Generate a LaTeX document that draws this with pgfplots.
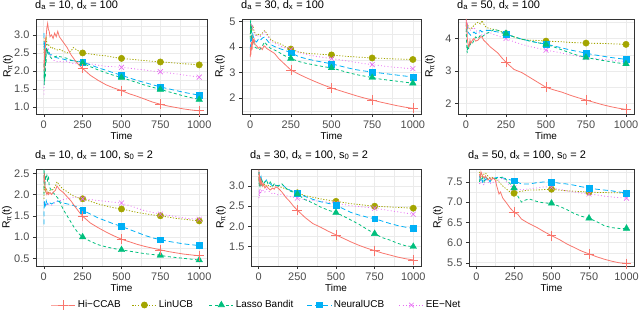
\documentclass[border=0pt]{standalone}
\usepackage{fontspec}
\setmainfont{Liberation Sans}
\usepackage{pgfplots}
\pgfplotsset{compat=1.18}
\definecolor{cH}{HTML}{F8766D}
\definecolor{cL}{HTML}{A3A500}
\definecolor{cS}{HTML}{00BF7D}
\definecolor{cN}{HTML}{00B0F6}
\definecolor{cE}{HTML}{E76BF3}
\definecolor{gridc}{HTML}{EBEBEB}
\definecolor{frame}{HTML}{333333}
\definecolor{tickc}{HTML}{4D4D4D}
\pgfplotsset{
  hic/.style={color=cH, solid, line width=0.8pt},
  lin/.style={color=cL, line width=0.8pt, dash pattern=on 1.2pt off 1.6pt},
  las/.style={color=cS, line width=0.8pt, dash pattern=on 3pt off 2.5pt},
  neu/.style={color=cN, line width=0.8pt, dash pattern=on 5pt off 3pt},
  een/.style={color=cE, line width=0.8pt, dash pattern=on 0.9pt off 2.4pt},
  hicm/.style={color=cH, only marks, mark=+, mark size=5pt, mark options={solid, line width=0.6pt}},
  linm/.style={color=cL, only marks, mark=*, mark size=3.2pt, mark options={solid, fill=cL}},
  lasm/.style={color=cS, only marks, mark=triangle*, mark size=3.8pt, mark options={solid, fill=cS}},
  neum/.style={color=cN, only marks, mark=square*, mark size=2.9pt, mark options={solid, fill=cN}},
  eenm/.style={color=cE, only marks, mark=x, mark size=3.5pt, mark options={solid, line width=0.6pt}},
  ylab/.style={ylabel style={at={(axis description cs:0,0.5)}, anchor=center, yshift=#1}},
  onekey/.style={legend style={at={#1}, anchor=west, draw=none, fill=none, inner sep=0pt, outer sep=0pt,
      font=\fontsize{10}{12}\selectfont, nodes={inner xsep=2bp}},
    legend image code/.code={\draw[mark repeat=2,mark phase=2,##1] plot coordinates {(0bp,0bp)(12bp,0bp)(24bp,0bp)};}},
  panel/.style={
    scale only axis, anchor=south west,
    xmin=-50, xmax=1050,
    xtick={0,250,500,750,1000},
    minor xtick={125,375,625,875},
    axis line style={color=frame, line width=0.6pt},
    tick align=outside, tick pos=left,
    major tick length=3bp, minor tick length=0pt,
    tick style={color=frame, line width=0.5pt},
    grid=both,
    major grid style={color=gridc, line width=0.6pt},
    minor grid style={color=gridc, line width=0.3pt},
    ticklabel style={font=\fontsize{11}{12}\selectfont, color=tickc},
    /pgf/number format/assume math mode=true,
    xticklabel style={/pgf/number format/.cd, fixed, 1000 sep={}},
    xlabel={Time},
    xlabel style={font=\fontsize{10}{12}\selectfont, at={(axis description cs:0.5,0)}, anchor=center, yshift=-21.5bp},
    ylabel={R\textsubscript{π}(t)},
    ylabel style={font=\fontsize{10.5}{12}\selectfont},
    title style={font=\fontsize{11}{13}\selectfont, at={(axis description cs:0,1)}, anchor=base west, inner sep=0pt, yshift=5bp, xshift=-1bp},
    clip=true,
  },
  onedec/.style={yticklabel style={/pgf/number format/.cd, fixed, fixed zerofill, precision=1}},
  nodec/.style={yticklabel style={/pgf/number format/.cd, fixed, precision=0}},
}
\begin{document}
\begin{tikzpicture}
\useasboundingbox (0,0) rectangle (640bp,311bp);
% ---------------- Panel 1 ----------------
\begin{axis}[panel, onedec, ylab=28bp, at={(36bp,197bp)}, width=171bp, height=95bp,
  ymin=0.81, ymax=3.44, ytick={1.0,1.5,2.0,2.5,3.0}, minor ytick={1.25,1.75,2.25,2.75,3.25},
  title={d\textsubscript{a} = 10, d\textsubscript{x} = 100},
  onekey={(axis description cs:1.585,-2.011)}]
\addlegendimage{neu, mark=square*, mark size=2.7pt, mark options={solid, fill=cN}}
\addlegendentry{NeuralUCB}
\addplot[lin, forget plot] coordinates {(1,2.5)(3,2.9)(5,2.6)(8,2.75)(12,2.8)(16,2.9)(20,2.75)(25,2.7)(30,2.72)(40,2.68)(50,2.62)(60,2.65)(75,2.6)(90,2.58)(100,2.6)(125,2.55)(150,2.5)(175,2.55)(190,2.65)(200,2.62)(225,2.55)(250,2.5)(300,2.47)(350,2.44)(400,2.42)(450,2.38)(500,2.35)(550,2.33)(600,2.31)(650,2.29)(700,2.27)(750,2.25)(800,2.24)(850,2.22)(900,2.2)(950,2.19)(1000,2.17)};
\addplot[een, forget plot] coordinates {(1,1.35)(3,1.8)(5,2.3)(8,2.4)(10,2.6)(15,2.5)(20,2.6)(25,2.55)(30,2.6)(40,2.45)(50,2.35)(60,2.3)(75,2.28)(90,2.25)(100,2.27)(125,2.25)(150,2.27)(175,2.22)(200,2.2)(225,2.22)(250,2.24)(300,2.2)(350,2.16)(400,2.13)(450,2.12)(500,2.1)(550,2.08)(600,2.05)(650,2.03)(700,2.0)(750,1.98)(800,1.95)(850,1.92)(900,1.89)(950,1.86)(1000,1.83)};
\addplot[neu, forget plot] coordinates {(1,3.05)(3,2.6)(5,2.8)(8,2.5)(10,2.75)(15,2.6)(20,2.55)(25,2.5)(30,2.55)(40,2.45)(50,2.45)(60,2.42)(75,2.38)(90,2.36)(100,2.35)(125,2.33)(150,2.3)(175,2.29)(200,2.28)(225,2.27)(250,2.25)(300,2.17)(350,2.09)(400,2.02)(450,1.95)(500,1.88)(550,1.81)(600,1.74)(650,1.68)(700,1.62)(750,1.56)(800,1.51)(850,1.46)(900,1.41)(950,1.37)(1000,1.33)};
\addplot[las, forget plot] coordinates {(1,2.2)(3,1.6)(5,2.4)(6,1.7)(8,2.5)(10,1.8)(12,2.6)(15,2.2)(18,2.75)(20,2.5)(25,2.6)(30,2.45)(40,2.4)(50,2.35)(60,2.38)(75,2.4)(90,2.42)(100,2.4)(125,2.38)(150,2.35)(175,2.3)(200,2.28)(225,2.25)(250,2.22)(300,2.12)(350,2.03)(400,1.95)(450,1.88)(500,1.82)(550,1.75)(600,1.68)(650,1.61)(700,1.55)(750,1.49)(800,1.43)(850,1.37)(900,1.31)(950,1.26)(1000,1.21)};
\addplot[hic, forget plot] coordinates {(1,2.3)(3,2.0)(5,2.6)(8,2.4)(12,2.9)(16,3.0)(20,3.2)(25,3.32)(30,3.15)(35,3.1)(40,2.95)(50,3.0)(60,2.9)(70,3.05)(80,2.95)(90,3.1)(100,2.95)(125,2.8)(150,2.65)(175,2.45)(200,2.3)(225,2.17)(250,2.07)(300,1.88)(350,1.74)(400,1.62)(450,1.53)(500,1.46)(550,1.37)(600,1.3)(650,1.22)(700,1.14)(750,1.08)(800,1.03)(850,0.99)(900,0.95)(950,0.92)(1000,0.9)};
\addplot[linm, forget plot] coordinates {(250,2.5)(500,2.35)(750,2.25)(1000,2.17)};
\addplot[eenm, forget plot] coordinates {(250,2.24)(500,2.1)(750,1.98)(1000,1.83)};
\addplot[neum, forget plot] coordinates {(250,2.25)(500,1.88)(750,1.56)(1000,1.33)};
\addplot[lasm, forget plot] coordinates {(250,2.22)(500,1.82)(750,1.49)(1000,1.21)};
\addplot[hicm, forget plot] coordinates {(250,2.07)(500,1.46)(750,1.08)(1000,0.9)};
\end{axis}
% ---------------- Panel 2 ----------------
\begin{axis}[panel, nodec, ylab=22bp, at={(242bp,197bp)}, width=179bp, height=95bp,
  ymin=1.37, ymax=5.1, ytick={2,3,4,5}, minor ytick={1.5,2.5,3.5,4.5},
  title={d\textsubscript{a} = 30, d\textsubscript{x} = 100},
  onekey={(axis description cs:0.877,-2.011)}]
\addlegendimage{een, mark=x, mark size=3.3pt, mark options={solid, line width=0.6pt}}
\addlegendentry{EE−Net}
\addplot[lin, forget plot] coordinates {(1,4.4)(3,4.9)(5,4.6)(8,4.8)(12,4.7)(16,4.85)(20,4.75)(25,4.6)(30,4.55)(40,4.45)(50,4.5)(60,4.45)(75,4.55)(90,4.65)(100,4.55)(125,4.3)(150,4.2)(175,4.15)(200,4.08)(225,3.98)(250,3.92)(300,3.8)(350,3.75)(400,3.73)(450,3.71)(500,3.69)(550,3.66)(600,3.63)(650,3.61)(700,3.59)(750,3.57)(800,3.56)(850,3.54)(900,3.53)(950,3.52)(1000,3.51)};
\addplot[een, forget plot] coordinates {(1,4.7)(3,4.95)(5,4.8)(8,4.9)(12,4.7)(16,4.8)(20,4.6)(25,4.55)(30,4.5)(40,4.4)(50,4.45)(60,4.4)(75,4.5)(90,4.6)(100,4.5)(125,4.25)(150,4.15)(175,4.08)(200,4.0)(225,3.95)(250,3.9)(300,3.78)(350,3.7)(400,3.64)(450,3.59)(500,3.55)(550,3.5)(600,3.45)(650,3.4)(700,3.35)(750,3.31)(800,3.27)(850,3.23)(900,3.2)(950,3.17)(1000,3.15)};
\addplot[neu, forget plot] coordinates {(1,3.9)(3,4.3)(5,4.0)(8,4.5)(12,4.3)(16,4.5)(20,4.4)(25,4.3)(30,4.25)(40,4.2)(50,4.3)(60,4.25)(75,4.35)(90,4.4)(100,4.3)(125,4.1)(150,4.02)(175,3.95)(200,3.9)(225,3.84)(250,3.78)(300,3.62)(350,3.53)(400,3.46)(450,3.4)(500,3.34)(550,3.26)(600,3.18)(650,3.11)(700,3.06)(750,3.02)(800,2.98)(850,2.94)(900,2.9)(950,2.86)(1000,2.83)};
\addplot[las, forget plot] coordinates {(1,4.3)(3,5.05)(5,4.5)(8,4.8)(10,4.3)(12,4.5)(16,4.2)(20,4.3)(25,4.1)(30,4.0)(40,3.95)(50,3.97)(60,3.9)(75,4.05)(90,4.2)(100,4.1)(125,3.95)(150,3.88)(175,3.8)(200,3.7)(225,3.62)(250,3.55)(300,3.43)(350,3.35)(400,3.29)(450,3.23)(500,3.18)(550,3.09)(600,3.0)(650,2.92)(700,2.86)(750,2.8)(800,2.74)(850,2.7)(900,2.66)(950,2.62)(1000,2.58)};
\addplot[hic, forget plot] coordinates {(1,3.6)(3,4.0)(5,3.7)(8,4.2)(12,3.9)(16,4.35)(20,4.2)(25,4.3)(30,4.1)(40,4.05)(50,3.95)(60,4.0)(75,3.9)(85,4.05)(95,4.0)(100,3.95)(125,3.85)(150,3.75)(175,3.55)(200,3.4)(225,3.25)(250,3.1)(300,2.93)(350,2.78)(400,2.64)(450,2.51)(500,2.39)(550,2.29)(600,2.19)(650,2.09)(700,2.0)(750,1.92)(800,1.84)(850,1.77)(900,1.7)(950,1.64)(1000,1.59)};
\addplot[linm, forget plot] coordinates {(250,3.92)(500,3.69)(750,3.57)(1000,3.51)};
\addplot[eenm, forget plot] coordinates {(250,3.9)(500,3.55)(750,3.31)(1000,3.15)};
\addplot[neum, forget plot] coordinates {(250,3.78)(500,3.34)(750,3.02)(1000,2.83)};
\addplot[lasm, forget plot] coordinates {(250,3.55)(500,3.18)(750,2.8)(1000,2.58)};
\addplot[hicm, forget plot] coordinates {(250,3.1)(500,2.39)(750,1.92)(1000,1.59)};
\end{axis}
% ---------------- Panel 3 ----------------
\begin{axis}[panel, nodec, ylab=28bp, at={(458bp,197bp)}, width=176bp, height=95bp,
  ymin=1.68, ymax=4.6, ytick={2,3,4}, minor ytick={2.5,3.5,4.5},
  title={d\textsubscript{a} = 50, d\textsubscript{x} = 100}]
\addplot[lin, forget plot] coordinates {(1,4.2)(3,4.5)(5,4.35)(8,4.45)(12,4.4)(16,4.35)(20,4.3)(30,4.3)(40,4.35)(50,4.4)(60,4.45)(75,4.5)(90,4.45)(100,4.55)(110,4.45)(125,4.35)(150,4.3)(175,4.28)(200,4.25)(225,4.2)(250,4.15)(300,4.05)(350,3.97)(400,3.95)(450,3.94)(500,3.92)(550,3.91)(600,3.9)(650,3.88)(700,3.87)(750,3.86)(800,3.85)(850,3.85)(900,3.84)(950,3.83)(1000,3.82)};
\addplot[een, forget plot] coordinates {(1,4.55)(3,4.6)(5,4.4)(8,4.5)(12,4.35)(20,4.3)(30,4.25)(40,4.3)(50,4.35)(60,4.25)(75,4.2)(90,4.15)(100,4.1)(125,4.15)(150,4.18)(175,4.12)(200,4.08)(225,4.03)(250,4.0)(300,3.9)(350,3.82)(400,3.75)(450,3.7)(500,3.64)(550,3.6)(600,3.55)(650,3.5)(700,3.46)(750,3.42)(800,3.39)(850,3.36)(900,3.34)(950,3.31)(1000,3.29)};
\addplot[neu, forget plot] coordinates {(1,4.5)(3,4.3)(5,4.25)(8,4.35)(12,4.2)(20,4.15)(30,4.1)(40,4.15)(50,4.2)(60,4.15)(75,4.2)(90,4.25)(100,4.2)(125,4.25)(150,4.25)(175,4.22)(200,4.2)(225,4.17)(250,4.14)(300,4.05)(350,3.98)(400,3.92)(450,3.87)(500,3.83)(550,3.77)(600,3.71)(650,3.65)(700,3.6)(750,3.55)(800,3.5)(850,3.46)(900,3.42)(950,3.39)(1000,3.36)};
\addplot[las, forget plot] coordinates {(1,4.3)(3,4.0)(5,3.7)(8,3.55)(12,3.8)(16,3.65)(20,3.85)(25,3.75)(30,3.9)(40,3.85)(50,3.95)(60,4.05)(75,4.0)(90,4.1)(100,4.05)(125,4.15)(150,4.2)(175,4.28)(200,4.25)(225,4.2)(250,4.15)(300,4.05)(350,3.98)(400,3.92)(450,3.87)(500,3.82)(550,3.74)(600,3.65)(650,3.56)(700,3.48)(750,3.42)(800,3.37)(850,3.33)(900,3.29)(950,3.25)(1000,3.22)};
\addplot[hic, forget plot] coordinates {(1,4.6)(3,4.3)(5,4.5)(8,4.0)(12,3.85)(16,3.75)(20,3.8)(25,3.95)(30,3.85)(40,3.95)(50,4.0)(60,3.92)(75,3.95)(90,4.05)(100,4.05)(110,3.95)(125,3.88)(150,3.75)(175,3.65)(200,3.55)(225,3.4)(250,3.27)(300,3.05)(350,2.95)(400,2.8)(450,2.65)(500,2.5)(550,2.42)(600,2.35)(650,2.26)(700,2.18)(750,2.11)(800,2.04)(850,1.97)(900,1.91)(950,1.86)(1000,1.82)};
\addplot[linm, forget plot] coordinates {(250,4.15)(500,3.92)(750,3.86)(1000,3.82)};
\addplot[eenm, forget plot] coordinates {(250,4.0)(500,3.64)(750,3.42)(1000,3.29)};
\addplot[neum, forget plot] coordinates {(250,4.14)(500,3.83)(750,3.55)(1000,3.36)};
\addplot[lasm, forget plot] coordinates {(250,4.15)(500,3.82)(750,3.42)(1000,3.22)};
\addplot[hicm, forget plot] coordinates {(250,3.27)(500,2.5)(750,2.11)(1000,1.82)};
\end{axis}
% ---------------- Panel 4 ----------------
\begin{axis}[panel, onedec, ylab=29bp, at={(36bp,45bp)}, width=171bp, height=97bp,
  ymin=0.32, ymax=2.6, ytick={0.5,1.0,1.5,2.0,2.5}, minor ytick={0.75,1.25,1.75,2.25},
  title={d\textsubscript{a} = 10, d\textsubscript{x} = 100, s\textsubscript{0} = 2},
  onekey={(axis description cs:0.088,-0.402)}]
\addlegendimage{hic, mark=+, mark size=5pt, mark options={solid, line width=0.6pt}}
\addlegendentry{Hi−CCAB}
\addplot[lin, forget plot] coordinates {(1,1.9)(3,2.3)(5,2.1)(8,2.2)(12,2.05)(16,2.15)(20,2.1)(30,2.05)(40,2.1)(50,2.1)(60,2.12)(75,2.2)(85,2.3)(95,2.25)(100,2.22)(125,2.12)(150,2.07)(175,2.0)(200,1.95)(225,1.92)(250,1.9)(300,1.84)(350,1.78)(400,1.73)(450,1.69)(500,1.66)(550,1.62)(600,1.58)(650,1.55)(700,1.52)(750,1.5)(800,1.47)(850,1.44)(900,1.42)(950,1.4)(1000,1.38)};
\addplot[een, forget plot] coordinates {(1,1.8)(3,1.85)(5,1.75)(8,1.8)(12,1.72)(16,1.8)(20,1.75)(30,1.78)(40,1.76)(50,1.75)(60,1.78)(75,1.82)(90,1.85)(100,1.85)(125,1.88)(150,1.9)(175,1.92)(200,1.95)(225,1.92)(250,1.9)(300,1.88)(350,1.86)(400,1.84)(450,1.82)(500,1.8)(550,1.74)(600,1.68)(650,1.62)(700,1.58)(750,1.54)(800,1.51)(850,1.48)(900,1.45)(950,1.43)(1000,1.42)};
\addplot[neu, forget plot] coordinates {(1,1.3)(3,1.85)(5,1.7)(8,1.8)(12,1.75)(16,1.85)(20,1.8)(30,1.75)(40,1.8)(50,1.78)(60,1.8)(75,1.82)(90,1.85)(100,1.83)(125,1.8)(150,1.78)(175,1.76)(200,1.73)(225,1.68)(250,1.63)(300,1.54)(350,1.45)(400,1.38)(450,1.31)(500,1.25)(550,1.18)(600,1.11)(650,1.04)(700,0.98)(750,0.94)(800,0.9)(850,0.87)(900,0.84)(950,0.82)(1000,0.8)};
\addplot[las, forget plot] coordinates {(1,2.0)(2,2.6)(3,2.3)(5,2.5)(8,2.2)(10,2.45)(12,2.35)(16,2.4)(20,2.45)(25,2.3)(30,2.45)(35,2.2)(40,2.15)(50,2.1)(60,2.05)(75,1.98)(90,1.92)(100,1.85)(125,1.65)(150,1.5)(175,1.35)(200,1.2)(225,1.08)(250,1.0)(300,0.9)(350,0.82)(400,0.77)(450,0.73)(500,0.7)(550,0.67)(600,0.64)(650,0.61)(700,0.59)(750,0.57)(800,0.54)(850,0.52)(900,0.5)(950,0.48)(1000,0.46)};
\addplot[hic, forget plot] coordinates {(1,2.3)(3,2.5)(5,2.35)(8,2.2)(12,2.1)(16,2.05)(20,2.0)(25,2.05)(30,2.0)(40,2.05)(50,2.0)(60,2.05)(75,2.1)(85,2.2)(95,2.15)(100,2.12)(125,2.05)(150,1.95)(175,1.85)(200,1.72)(225,1.6)(250,1.49)(300,1.33)(350,1.22)(400,1.12)(450,1.03)(500,0.95)(550,0.89)(600,0.83)(650,0.78)(700,0.74)(750,0.7)(800,0.66)(850,0.63)(900,0.6)(950,0.58)(1000,0.56)};
\addplot[linm, forget plot] coordinates {(250,1.9)(500,1.66)(750,1.5)(1000,1.38)};
\addplot[eenm, forget plot] coordinates {(250,1.9)(500,1.8)(750,1.54)(1000,1.42)};
\addplot[neum, forget plot] coordinates {(250,1.63)(500,1.25)(750,0.94)(1000,0.8)};
\addplot[lasm, forget plot] coordinates {(250,1.0)(500,0.7)(750,0.57)(1000,0.46)};
\addplot[hicm, forget plot] coordinates {(250,1.49)(500,0.95)(750,0.7)(1000,0.56)};
\end{axis}
% ---------------- Panel 5 ----------------
\begin{axis}[panel, onedec, ylab=30bp, at={(251bp,45bp)}, width=170bp, height=97bp,
  ymin=1.02, ymax=3.42, ytick={1.0,1.5,2.0,2.5,3.0}, minor ytick={1.25,1.75,2.25,2.75,3.25},
  title={d\textsubscript{a} = 30, d\textsubscript{x} = 100, s\textsubscript{0} = 2},
  onekey={(axis description cs:-0.700,-0.402)}]
\addlegendimage{lin, mark=*, mark size=3pt, mark options={solid, fill=cL}}
\addlegendentry{LinUCB}
\addplot[lin, forget plot] coordinates {(1,3.3)(3,3.1)(5,3.25)(8,3.0)(12,3.15)(16,3.05)(20,3.1)(30,3.0)(40,3.05)(50,3.0)(60,3.02)(75,2.98)(90,3.0)(100,3.02)(125,3.0)(150,2.96)(175,2.93)(200,2.9)(225,2.86)(250,2.83)(300,2.76)(350,2.72)(400,2.68)(450,2.65)(500,2.62)(550,2.59)(600,2.56)(650,2.54)(700,2.52)(750,2.5)(800,2.49)(850,2.48)(900,2.47)(950,2.46)(1000,2.45)};
\addplot[een, forget plot] coordinates {(1,2.7)(3,2.9)(5,2.75)(8,2.95)(12,2.8)(16,2.9)(20,2.85)(30,2.9)(40,2.85)(50,2.92)(60,2.88)(75,2.85)(90,2.8)(100,2.82)(125,2.78)(150,2.8)(175,2.76)(200,2.74)(225,2.72)(250,2.7)(300,2.66)(350,2.64)(400,2.62)(450,2.6)(500,2.57)(550,2.54)(600,2.51)(650,2.49)(700,2.47)(750,2.45)(800,2.42)(850,2.39)(900,2.36)(950,2.33)(1000,2.3)};
\addplot[neu, forget plot] coordinates {(1,3.3)(3,3.35)(5,3.1)(8,3.25)(12,3.05)(16,3.2)(20,3.1)(30,3.05)(40,3.1)(50,3.15)(60,3.1)(75,3.05)(90,3.0)(100,3.03)(125,3.0)(150,3.05)(175,2.95)(200,2.9)(225,2.86)(250,2.83)(300,2.74)(350,2.67)(400,2.61)(450,2.57)(500,2.53)(550,2.43)(600,2.34)(650,2.28)(700,2.23)(750,2.19)(800,2.13)(850,2.07)(900,2.02)(950,1.98)(1000,1.95)};
\addplot[las, forget plot] coordinates {(1,3.35)(3,3.0)(5,3.25)(8,2.95)(12,3.2)(16,3.0)(20,3.15)(30,3.05)(40,3.1)(50,3.15)(60,3.05)(75,3.1)(90,3.0)(100,3.05)(125,3.0)(150,3.05)(175,2.95)(200,2.88)(225,2.84)(250,2.8)(300,2.66)(350,2.58)(400,2.48)(450,2.4)(500,2.34)(550,2.25)(600,2.15)(650,2.05)(700,1.93)(750,1.82)(800,1.72)(850,1.66)(900,1.58)(950,1.52)(1000,1.5)};
\addplot[hic, forget plot] coordinates {(1,3.4)(3,3.1)(5,3.3)(8,3.0)(12,3.2)(16,3.05)(20,3.1)(25,3.0)(30,3.05)(40,2.95)(50,3.0)(60,2.95)(75,2.9)(90,2.95)(100,2.92)(110,2.98)(125,2.95)(150,2.85)(175,2.72)(200,2.62)(225,2.5)(250,2.4)(300,2.22)(350,2.07)(400,1.98)(450,1.88)(500,1.79)(550,1.7)(600,1.61)(650,1.53)(700,1.46)(750,1.4)(800,1.34)(850,1.29)(900,1.24)(950,1.2)(1000,1.17)};
\addplot[linm, forget plot] coordinates {(250,2.83)(500,2.62)(750,2.5)(1000,2.45)};
\addplot[eenm, forget plot] coordinates {(250,2.7)(500,2.57)(750,2.45)(1000,2.3)};
\addplot[neum, forget plot] coordinates {(250,2.83)(500,2.53)(750,2.19)(1000,1.95)};
\addplot[lasm, forget plot] coordinates {(250,2.8)(500,2.34)(750,1.82)(1000,1.5)};
\addplot[hicm, forget plot] coordinates {(250,2.4)(500,1.79)(750,1.4)(1000,1.17)};
\end{axis}
% ---------------- Panel 6 ----------------
\begin{axis}[panel, onedec, ylab=31bp, at={(469bp,45bp)}, width=165bp, height=97bp,
  ymin=5.42, ymax=7.82, ytick={5.5,6.0,6.5,7.0,7.5}, minor ytick={5.75,6.25,6.75,7.25,7.75},
  title={d\textsubscript{a} = 50, d\textsubscript{x} = 100, s\textsubscript{0} = 2},
  onekey={(axis description cs:-1.576,-0.402)}]
\addlegendimage{las, mark=triangle*, mark size=3.5pt, mark options={solid, fill=cS}}
\addlegendentry{Lasso Bandit}
\addplot[lin, forget plot] coordinates {(20,7.75)(25,7.65)(30,7.7)(40,7.6)(50,7.7)(60,7.72)(75,7.65)(90,7.6)(100,7.62)(125,7.58)(150,7.5)(175,7.4)(200,7.32)(225,7.25)(250,7.22)(275,7.25)(300,7.27)(350,7.3)(400,7.3)(450,7.31)(500,7.32)(550,7.3)(600,7.28)(650,7.27)(700,7.26)(750,7.25)(800,7.24)(850,7.24)(900,7.23)(950,7.23)(1000,7.22)};
\addplot[een, forget plot] coordinates {(20,7.45)(25,7.55)(30,7.45)(40,7.5)(50,7.42)(60,7.55)(75,7.5)(90,7.45)(100,7.5)(125,7.48)(150,7.55)(175,7.6)(200,7.5)(225,7.4)(250,7.35)(300,7.3)(350,7.33)(400,7.35)(450,7.38)(500,7.37)(550,7.32)(600,7.28)(650,7.25)(700,7.22)(750,7.2)(800,7.18)(850,7.15)(900,7.13)(950,7.11)(1000,7.1)};
\addplot[neu, forget plot] coordinates {(20,7.65)(25,7.55)(30,7.6)(40,7.5)(50,7.62)(60,7.55)(75,7.6)(90,7.5)(100,7.58)(125,7.6)(150,7.62)(175,7.6)(200,7.58)(225,7.55)(250,7.53)(300,7.45)(350,7.45)(400,7.48)(450,7.5)(500,7.5)(550,7.47)(600,7.45)(650,7.42)(700,7.38)(750,7.35)(800,7.32)(850,7.3)(900,7.28)(950,7.25)(1000,7.23)};
\addplot[las, forget plot] coordinates {(20,7.5)(25,7.65)(30,7.55)(40,7.6)(50,7.5)(60,7.62)(75,7.58)(90,7.6)(100,7.55)(125,7.58)(150,7.6)(175,7.62)(200,7.55)(225,7.45)(250,7.35)(275,7.15)(300,7.0)(325,7.05)(350,7.08)(400,7.02)(450,6.98)(500,6.97)(550,6.9)(600,6.82)(650,6.72)(700,6.65)(750,6.6)(800,6.52)(850,6.42)(900,6.37)(950,6.35)(1000,6.35)};
\addplot[hic, forget plot] coordinates {(20,7.7)(25,7.6)(30,7.75)(40,7.65)(50,7.6)(60,7.65)(75,7.55)(90,7.6)(100,7.55)(110,7.6)(125,7.55)(135,7.4)(150,7.2)(160,7.25)(175,7.1)(200,6.98)(225,6.85)(250,6.75)(275,6.7)(300,6.58)(350,6.47)(400,6.38)(450,6.27)(500,6.17)(550,6.08)(600,5.97)(650,5.88)(700,5.79)(750,5.72)(800,5.65)(850,5.59)(900,5.54)(950,5.5)(1000,5.48)};
\addplot[linm, forget plot] coordinates {(250,7.22)(500,7.32)(750,7.25)(1000,7.22)};
\addplot[eenm, forget plot] coordinates {(250,7.35)(500,7.37)(750,7.2)(1000,7.1)};
\addplot[neum, forget plot] coordinates {(250,7.53)(500,7.5)(750,7.35)(1000,7.23)};
\addplot[lasm, forget plot] coordinates {(250,7.35)(500,6.97)(750,6.6)(1000,6.35)};
\addplot[hicm, forget plot] coordinates {(250,6.75)(500,6.17)(750,5.72)(1000,5.48)};
\end{axis}
\end{tikzpicture}
\end{document}
